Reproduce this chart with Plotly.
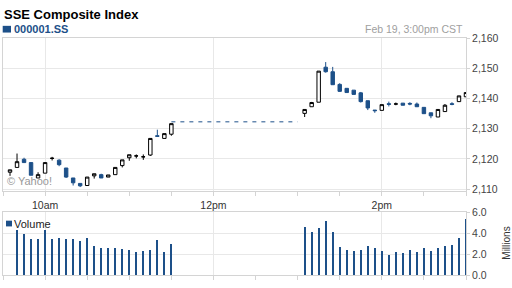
import plotly.graph_objects as go

DATE = "2013-02-19"
BLUE = "#1d5089"

times = ["09:35", "09:40", "09:45", "09:50", "09:55", "10:00", "10:05", "10:10",
         "10:15", "10:20", "10:25", "10:30", "10:35", "10:40", "10:45", "10:50",
         "10:55", "11:00", "11:05", "11:10", "11:15", "11:20", "11:25", "11:30",
         "13:05", "13:10", "13:15", "13:20", "13:25", "13:30", "13:35", "13:40",
         "13:45", "13:50", "13:55", "14:00", "14:05", "14:10", "14:15", "14:20",
         "14:25", "14:30", "14:35", "14:40", "14:45", "14:50", "14:55", "15:00"]

opens = [2115.6, 2117.2, 2119.9, 2118.8, 2113.7, 2115.3, 2120.2, 2119.6,
         2117.0, 2113.7, 2111.9, 2111.2, 2114.4, 2114.8, 2114.0, 2114.8,
         2117.8, 2120.4, 2121.0, 2120.7, 2121.3, 2127.7, 2126.8, 2128.2,
         2135.1, 2137.3, 2138.8, 2150.4, 2148.9, 2144.7, 2143.4, 2142.8,
         2141.9, 2139.3, 2136.2, 2136.1, 2138.3, 2138.2, 2138.5, 2138.4,
         2138.2, 2137.1, 2135.3, 2133.9, 2135.7, 2138.3, 2139.0, 2140.6]
highs = [2116.4, 2121.8, 2120.4, 2118.8, 2115.6, 2118.8, 2120.7, 2119.9,
         2117.0, 2113.7, 2111.9, 2114.0, 2115.1, 2115.1, 2114.7, 2117.2,
         2119.7, 2121.4, 2121.5, 2121.5, 2126.8, 2129.7, 2128.4, 2131.7,
         2136.4, 2138.9, 2149.1, 2152.1, 2150.5, 2145.1, 2143.4, 2142.8,
         2142.2, 2139.3, 2136.2, 2138.0, 2139.0, 2138.7, 2138.5, 2138.8,
         2138.7, 2137.1, 2135.3, 2136.4, 2138.2, 2138.8, 2140.9, 2142.0]
lows = [2114.4, 2117.2, 2118.8, 2114.6, 2113.7, 2115.3, 2119.5, 2117.6,
        2113.7, 2111.2, 2110.7, 2111.2, 2113.5, 2113.7, 2114.0, 2114.8,
        2117.2, 2119.4, 2120.2, 2119.7, 2121.0, 2127.5, 2126.8, 2127.7,
        2133.9, 2137.3, 2138.8, 2148.6, 2144.6, 2142.2, 2142.0, 2141.4,
        2138.7, 2136.2, 2135.3, 2136.1, 2137.4, 2137.8, 2137.8, 2137.8,
        2137.3, 2135.0, 2133.5, 2133.9, 2135.7, 2137.8, 2139.0, 2140.6]
closes = [2116.4, 2119.1, 2118.8, 2114.6, 2114.8, 2118.8, 2120.22, 2118.1,
          2114.0, 2112.1, 2111.1, 2114.0, 2115.1, 2113.7, 2114.7, 2117.2,
          2119.7, 2121.4, 2121.02, 2120.72, 2126.8, 2127.5, 2128.4, 2131.7,
          2136.4, 2138.7, 2149.1, 2148.9, 2144.6, 2142.4, 2142.0, 2141.4,
          2139.0, 2136.9, 2136.0, 2138.0, 2138.1, 2138.22, 2137.8, 2138.2,
          2137.3, 2135.0, 2134.3, 2136.4, 2137.8, 2138.1, 2140.9, 2142.0]

volumes = [None, 4.32, 3.95, 3.43, 3.49, 4.32, 3.43, 3.58,
           3.46, 3.49, 3.30, 3.58, 2.84, 2.65, 2.59, 2.59,
           2.47, 2.41, 2.19, 2.28, 2.38, 3.33, 2.19, 3.02,
           4.60, 4.14, 4.51, 5.15, 4.14, 2.75, 2.38, 2.28,
           2.38, 2.84, 2.56, 2.28, 1.91, 2.19, 2.10, 2.38,
           2.19, 2.56, 2.28, 2.65, 2.84, 2.93, 3.58, 5.34]

lunch_times = ["11:30", "13:00"]
lunch_level = [2132.3, 2132.3]

price_ticks = [2110, 2120, 2130, 2140, 2150, 2160]
vol_ticks = [0, 2, 4, 6]
hour_ticks = ["10:00", "12:00", "14:00"]
hour_labels = ["10am", "12pm", "2pm"]

W, H = 512, 288
FONT = "Liberation Sans, Arial, sans-serif"
GRID = "#e8e8e8"
LINE = "#d4d4d4"

xs = [f"{DATE} {t}" for t in times]

fig = go.Figure()
fig.add_trace(go.Candlestick(
    x=xs, open=opens, high=highs, low=lows, close=closes,
    increasing=dict(line=dict(color="#000000", width=1), fillcolor="#ffffff"),
    decreasing=dict(line=dict(color=BLUE, width=1), fillcolor=BLUE),
    whiskerwidth=0, xaxis="x", yaxis="y", showlegend=False, hoverinfo="skip"))
fig.add_trace(go.Scatter(
    x=[f"{DATE} {t}" for t in lunch_times], y=lunch_level, mode="lines",
    line=dict(color=BLUE, width=1, dash="4px,5px"),
    xaxis="x", yaxis="y", showlegend=False, hoverinfo="skip"))
fig.add_trace(go.Bar(
    x=xs, y=volumes, width=36000, marker=dict(color=BLUE, line=dict(width=0)),
    xaxis="x2", yaxis="y2", showlegend=False, hoverinfo="skip"))

xdom = [3 / W, 466 / W]
common_x = dict(
    type="date", domain=xdom,
    range=[f"{DATE} 09:30", f"{DATE} 15:00"],
    tickmode="array", tickvals=[f"{DATE} {t}" for t in hour_ticks],
    showgrid=True, gridcolor=GRID, gridwidth=1,
    ticks="outside", ticklen=4, tickcolor=LINE,
    showline=True, linecolor=LINE, linewidth=1, mirror=True,
    zeroline=False,
    minor=dict(dtick=1800000, tick0=f"{DATE} 09:30", ticks="outside", ticklen=4,
               tickcolor=LINE, showgrid=False),
)
fig.update_layout(
    width=W, height=H, margin=dict(l=0, r=0, t=0, b=0),
    paper_bgcolor="white", plot_bgcolor="white",
    font=dict(family=FONT, size=10.5, color="#333333"),
    bargap=0,
    xaxis=dict(**common_x, anchor="y", ticktext=hour_labels,
               tickfont=dict(size=10.5, color="#333333"),
               rangeslider=dict(visible=False)),
    xaxis2=dict(**common_x, anchor="y2", matches="x", showticklabels=False),
    yaxis=dict(domain=[1 - 193 / H, 1 - 33 / H], side="right",
               range=[2109.4, 2160.2], tickmode="array", tickvals=price_ticks,
               tickformat=",", showgrid=True, gridcolor=GRID,
               ticks="outside", ticklen=3, tickcolor=LINE,
               showline=True, linecolor=LINE, mirror=True, zeroline=False,
               tickfont=dict(size=10.5, color="#444444"), anchor="x"),
    yaxis2=dict(domain=[1 - 281 / H, 1 - 215 / H], side="right",
                range=[0, 6.05], tickmode="array", tickvals=vol_ticks,
                tickformat=".1f", showgrid=True, gridcolor=GRID,
                ticks="outside", ticklen=3, tickcolor=LINE,
                showline=True, linecolor=LINE, mirror=True, zeroline=False,
                tickfont=dict(size=10.5, color="#444444"), anchor="x2"),
)

def ann(text, x, y, size, color, xanchor="left", angle=0):
    fig.add_annotation(text=text, x=x / W, y=1 - y / H, xref="paper", yref="paper",
                       xanchor=xanchor, yanchor="middle", showarrow=False,
                       textangle=angle, borderpad=0,
                       font=dict(family=FONT, size=size, color=color))

ann("<b>SSE Composite Index</b>", 3, 8.5, 13, "#000000")
ann("<b>000001.SS</b>", 12.5, 24, 11, BLUE)
ann("Feb 19, 3:00pm CST", 464, 24, 10.5, "#a0a0a0", xanchor="right")
ann("Volume", 12.5, 227, 11, "#222222")
ann("© Yahoo!", 5.5, 182.5, 11, "#999999")
ann("Millions", 506.5, 247.5, 10, "#333333", xanchor="center", angle=-90)

fig.add_shape(type="rect", xref="paper", yref="paper",
              x0=2.7 / W, x1=11 / W, y0=1 - 27.7 / H, y1=1 - 20.7 / H,
              fillcolor=BLUE, line=dict(width=0))
fig.add_shape(type="rect", xref="paper", yref="paper",
              x0=6 / W, x1=12 / W, y0=1 - 230 / H, y1=1 - 224 / H,
              fillcolor=BLUE, line=dict(width=0))

fig.write_html("out.html")
